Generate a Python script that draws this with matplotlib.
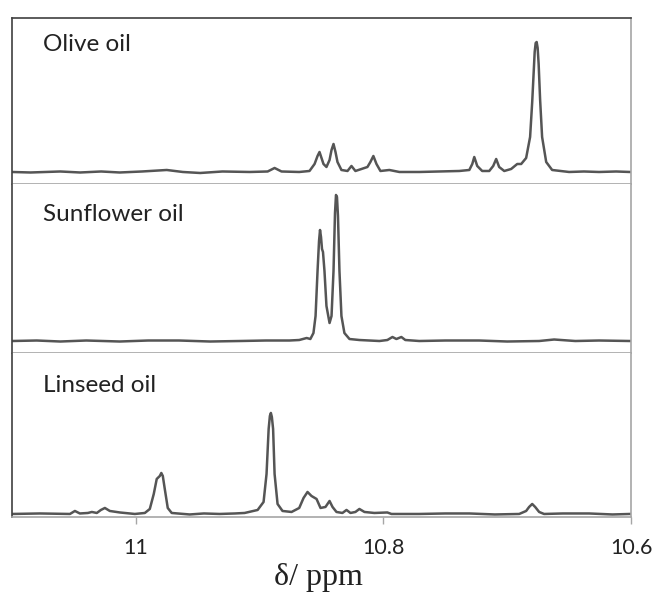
import matplotlib
matplotlib.use("Agg")
import matplotlib.pyplot as plt

# Chemical shift (ppm) and intensity (a.u.)
olive_ppm = [11.100, 11.085, 11.061, 11.045, 11.028, 11.013, 10.995, 10.975, 10.962, 10.948,
             10.930, 10.908, 10.8935, 10.8879, 10.8823,
             10.868, 10.8597, 10.8556, 10.8532, 10.8516, 10.8500, 10.8484, 10.846, 10.8435,
             10.8419, 10.8403, 10.8387, 10.8371, 10.8339, 10.829, 10.8258, 10.8226, 10.8177,
             10.8129, 10.8105, 10.8081, 10.8056, 10.8024, 10.7952, 10.7871, 10.771, 10.755,
             10.7387, 10.7306, 10.7282, 10.7266, 10.7242, 10.7202, 10.7145, 10.7113, 10.7089,
             10.7065, 10.7024, 10.6968, 10.6919, 10.6887, 10.6847, 10.6815, 10.6798, 10.6786,
             10.6778, 10.6770, 10.6762, 10.6754, 10.6746, 10.6734, 10.6718, 10.6685, 10.6637,
             10.650, 10.638, 10.6258, 10.612, 10.6008]
olive_int = [0, -0.5, 0.5, -0.5, 0.5, -0.5, 0.5, 2, 0, -1,
             0.5, 0, 0.5, 4, 0.5,
             0, 1, 8, 16, 20, 14, 8, 5, 12,
             22, 28, 20, 10, 2, 1, 6, 1, 3,
             5, 10, 16, 8, 1, 2, 0, 0, 0.5,
             1, 2, 8, 15, 6, 1, 1, 6, 13,
             5, 1, 3, 8, 8, 14, 35, 70, 100,
             120, 129, 130, 124, 108, 72, 35, 10, 2,
             0, 0.5, 0, 0.5, 0]

sunflower_ppm = [11.100, 11.080, 11.061, 11.040, 11.013, 10.990, 10.965, 10.940, 10.916,
                 10.895, 10.876, 10.868, 10.862, 10.859,
                 10.8565, 10.8548, 10.8532, 10.8520, 10.8512, 10.8504, 10.8496, 10.8488,
                 10.8476, 10.846, 10.8435, 10.8419, 10.8403, 10.8391, 10.8383, 10.8375,
                 10.8367, 10.8355, 10.8339, 10.8315, 10.8274, 10.8194, 10.8032, 10.7968,
                 10.7927, 10.7895, 10.7855, 10.7823, 10.771, 10.750, 10.7226, 10.700,
                 10.6742, 10.6621, 10.645, 10.6258, 10.6008]
sunflower_int = [0, 0.5, -0.5, 0.5, -0.5, 0.5, 0.5, -0.5, 0,
                 0.5, 0.5, 1, 3, 2,
                 8, 25, 70, 100, 111, 104, 92, 89,
                 70, 35, 18, 25, 70, 128, 146, 144,
                 125, 70, 25, 8, 2, 1, 0, 1,
                 4, 2, 4, 1, 0, 0.5, 0.5, -0.5,
                 0, 1.5, 0, 0.5, 0]

linseed_ppm = [11.100, 11.0774, 11.0532, 11.0492, 11.0452, 11.0387, 11.0355, 11.0315, 11.0282,
               11.025, 11.021, 11.0129, 11.0008, 10.9927, 10.9887, 10.9855, 10.9831, 10.9806,
               10.9794, 10.9782, 10.9766, 10.9742, 10.971, 10.9565, 10.945, 10.9323, 10.920,
               10.9121, 10.9016, 10.8968, 10.8944, 10.8927, 10.8917, 10.8909, 10.8901, 10.8891,
               10.8879, 10.8855, 10.8815, 10.8742, 10.868,
               10.8645, 10.8613, 10.8581, 10.854, 10.8508, 10.8468, 10.8435, 10.8411, 10.8379,
               10.8331, 10.8298, 10.8266, 10.8226, 10.8194, 10.8153, 10.8073, 10.7968, 10.7935,
               10.771, 10.750, 10.7306, 10.710, 10.6903, 10.6847, 10.6823, 10.6798, 10.6774,
               10.6742, 10.6702, 10.655, 10.6339, 10.615, 10.6008]
linseed_int = [0, 0.5, 0, 3, 0.5, 1, 2, 1, 4,
               6, 3, 1.5, 0, 1, 5, 20, 35, 38,
               41, 38, 25, 6, 1, -0.5, 0.5, 0, 0.5,
               1, 4, 12, 40, 85, 98, 101, 97, 85,
               40, 10, 3, 2, 6,
               16, 22, 18, 15, 6, 7, 13, 7, 2,
               1, 4, 1, 2, 5, 2, 1, 1.5, 0,
               0, 0.5, 0.5, -0.5, 0, 3, 7, 10, 7,
               2, 0, 0.5, 0.5, -0.5, 0]

names = ["Olive oil", "Sunflower oil", "Linseed oil"]
shift_ticks = [11, 10.8, 10.6]
tick_text = ["11", "10.8", "10.6"]

line_col = "#555555"
dark = "#404040"
light = "#a6a6a6"

fig = plt.figure(figsize=(6.53, 5.96), dpi=100)

# panel rectangles in figure fractions, top to bottom
rects = [
    [0.0184, 0.6913, 0.9479, 0.2785],
    [0.0184, 0.4077, 0.9479, 0.2836],
    [0.0184, 0.1326, 0.9479, 0.2752],
]
ylims = [(-12, 154), (-12, 157), (-3, 161)]
label_y = [0.84, 0.82, 0.80]
traces = [(olive_ppm, olive_int), (sunflower_ppm, sunflower_int), (linseed_ppm, linseed_int)]

for i, (x, y) in enumerate(traces):
    ax = fig.add_axes(rects[i])
    ax.plot(x, y, color=line_col, lw=1.8, solid_joinstyle="round")
    ax.set_xlim(11.1, 10.6)
    ax.set_ylim(*ylims[i])
    ax.set_yticks([])
    ax.text(0.05, label_y[i], names[i], transform=ax.transAxes,
            fontsize=17.5, family="Lato", color="#222222", va="center")
    ax.spines["left"].set_color(dark)
    ax.spines["left"].set_linewidth(1.2)
    ax.spines["right"].set_color(light)
    ax.spines["right"].set_linewidth(1.2)
    ax.spines["bottom"].set_color(light)
    ax.spines["bottom"].set_linewidth(1.2)
    if i == 0:
        ax.spines["top"].set_color(dark)
        ax.spines["top"].set_linewidth(1.2)
    else:
        ax.spines["top"].set_visible(False)
    if i < 2:
        ax.set_xticks([])
    else:
        ax.set_xticks(shift_ticks)
        ax.set_xticklabels(tick_text, fontsize=15.5, family="Lato", color="#222222")
        ax.tick_params(axis="x", direction="out", length=5, width=1, color=light, pad=10)

fig.text(318 / 653, 1 - 578 / 596, "δ/ ppm", ha="center", va="center",
         fontsize=23, family="Liberation Serif", color="#222222")

fig.savefig("out.png", dpi=100)
